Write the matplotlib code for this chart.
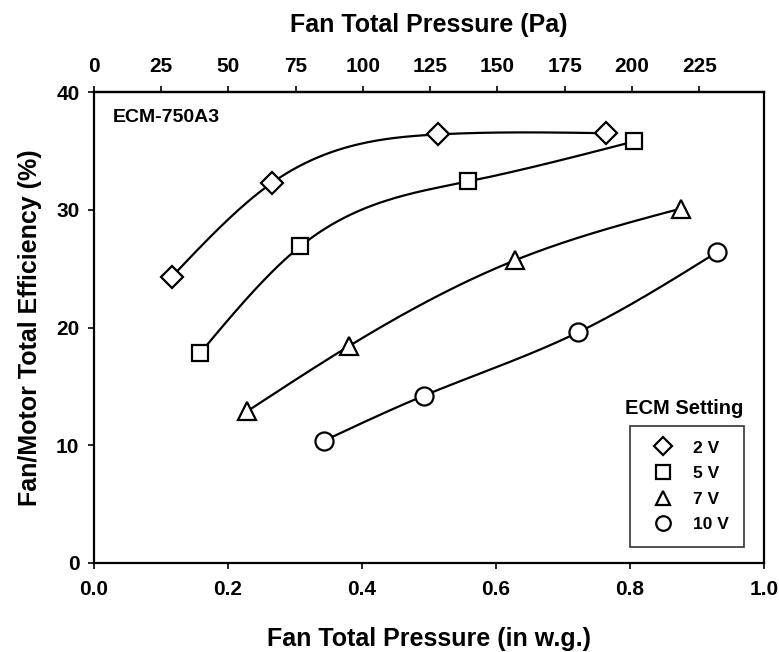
import numpy as np
import matplotlib
matplotlib.use('Agg')
import matplotlib.pyplot as plt
from matplotlib.lines import Line2D

plt.rcParams['font.family'] = ['Liberation Sans', 'DejaVu Sans']
plt.rcParams['font.weight'] = 'bold'

# data (in w.g., %)
settings = ['2 V', '5 V', '7 V', '10 V']
markers = ['D', 's', '^', 'o']
msizes = [11, 11, 13, 13]
leg_msizes = [9, 10, 10.5, 10.5]

p_2v = [0.116, 0.266, 0.514, 0.764]
e_2v = [24.3, 32.3, 36.4, 36.5]
p_5v = [0.158, 0.308, 0.558, 0.806]
e_5v = [17.8, 26.9, 32.4, 35.8]
p_7v = [0.229, 0.380, 0.628, 0.876]
e_7v = [12.9, 18.4, 25.7, 30.1]
p_10v = [0.344, 0.492, 0.723, 0.930]
e_10v = [10.4, 14.2, 19.6, 26.4]

series = [(p_2v, e_2v), (p_5v, e_5v), (p_7v, e_7v), (p_10v, e_10v)]
PA_PER_INWG = 249.0889


def natural_spline(x, y, n=200):
    # natural cubic spline through the measured points
    x = np.asarray(x, float)
    y = np.asarray(y, float)
    h = np.diff(x)
    k = len(x)
    A = np.zeros((k, k))
    b = np.zeros(k)
    A[0, 0] = A[-1, -1] = 1
    for i in range(1, k - 1):
        A[i, i - 1] = h[i - 1]
        A[i, i] = 2 * (h[i - 1] + h[i])
        A[i, i + 1] = h[i]
        b[i] = 6 * ((y[i + 1] - y[i]) / h[i] - (y[i] - y[i - 1]) / h[i - 1])
    M = np.linalg.solve(A, b)
    xs = np.linspace(x[0], x[-1], n)
    idx = np.clip(np.searchsorted(x, xs) - 1, 0, k - 2)
    x0, x1 = x[idx], x[idx + 1]
    hh = x1 - x0
    t0, t1 = x1 - xs, xs - x0
    ys = (M[idx] * t0 ** 3 + M[idx + 1] * t1 ** 3) / (6 * hh) \
        + (y[idx] / hh - M[idx] * hh / 6) * t0 + (y[idx + 1] / hh - M[idx + 1] * hh / 6) * t1
    return xs, ys


fig = plt.figure(figsize=(7.79, 6.52), dpi=100)
ax = fig.add_axes([94 / 779, 1 - 563 / 652, 670 / 779, 471 / 652])

for (px, ey), m, ms in zip(series, markers, msizes):
    xs, ys = natural_spline(px, ey)
    ax.plot(xs, ys, color='black', lw=1.6, zorder=2)
    ax.plot(px, ey, linestyle='none', marker=m, ms=ms, mfc='white', mec='black',
            mew=1.6, zorder=3)

ax.set_xlim(0, 1.0)
ax.set_ylim(0, 40)
ax.set_xticks(np.arange(0, 1.01, 0.2))
ax.set_xticklabels(['0.0', '0.2', '0.4', '0.6', '0.8', '1.0'])
ax.set_yticks([0, 10, 20, 30, 40])
for s in ax.spines.values():
    s.set_linewidth(1.6)
ax.tick_params(direction='out', length=4.5, width=1.2, labelsize=15, pad=6)
ax.tick_params(axis='x', pad=8)
ax.set_xlabel('Fan Total Pressure (in w.g.)', fontsize=18, fontweight='bold', labelpad=20)
ax.set_ylabel('Fan/Motor Total Efficiency (%)', fontsize=18, fontweight='bold', labelpad=10)

top = ax.secondary_xaxis('top', functions=(lambda x: x * PA_PER_INWG, lambda p: p / PA_PER_INWG))
top.set_xticks(np.arange(0, 226, 25))
top.tick_params(direction='out', length=4.5, width=1.2, labelsize=15, pad=7)
top.spines['top'].set_linewidth(1.6)
top.set_xlabel('Fan Total Pressure (Pa)', fontsize=18, fontweight='bold', labelpad=18)

ax.text(0.028, 0.945, 'ECM-750A3', transform=ax.transAxes, fontsize=14,
        fontweight='bold', va='center', ha='left')

handles = [Line2D([], [], linestyle='none', marker=m, ms=ms, mfc='white', mec='black', mew=1.6)
           for m, ms in zip(markers, leg_msizes)]
leg = ax.legend(handles, settings, loc='lower right', bbox_to_anchor=(0.970, 0.034),
                borderaxespad=0, fontsize=12.5, frameon=True, fancybox=False, edgecolor='black',
                handletextpad=0.7, labelspacing=0.6, borderpad=0.85, handlelength=2.1)
leg.get_frame().set_linewidth(1.2)
ax.text(0.881, 0.329, 'ECM Setting', transform=ax.transAxes, fontsize=14.5,
        fontweight='bold', ha='center', va='center')

fig.savefig('out.png', dpi=100)
